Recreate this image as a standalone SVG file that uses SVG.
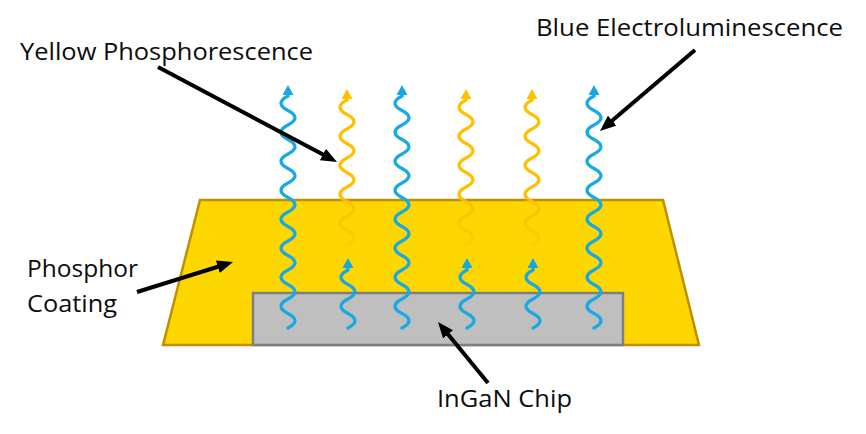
<svg xmlns="http://www.w3.org/2000/svg" width="866" height="434" viewBox="0 0 866 434">
  <style>
    .label { font-family: "Open Sans", "Liberation Sans", sans-serif; font-size: 24.5px; fill: #0d0d0d; }
    .blue { fill: none; stroke: #19A9E2; stroke-width: 3.3; stroke-linecap: round; marker-end: url(#headBlue); }
    .yellow { fill: none; stroke: url(#fadeYellow); stroke-width: 3.3; stroke-linecap: round; marker-end: url(#headYellow); }
    .pointer { fill: none; stroke: #000000; stroke-width: 4; marker-end: url(#headBlack); }
  </style>
  <defs>
    <marker id="headBlue" viewBox="0 0 10 11" refX="1" refY="5.5" markerWidth="10" markerHeight="11" markerUnits="userSpaceOnUse" orient="270">
      <path d="M0,0 L10,5.5 L0,11 z" fill="#19A9E2"/>
    </marker>
    <marker id="headYellow" viewBox="0 0 10 11" refX="1" refY="5.5" markerWidth="10" markerHeight="11" markerUnits="userSpaceOnUse" orient="270">
      <path d="M0,0 L10,5.5 L0,11 z" fill="#FFC000"/>
    </marker>
    <marker id="headBlack" viewBox="0 0 16 13" refX="6" refY="6.5" markerWidth="16" markerHeight="13" markerUnits="userSpaceOnUse" orient="auto">
      <path d="M0,0 L16,6.5 L0,13 z" fill="#000000"/>
    </marker>
    <linearGradient id="fadeYellow" gradientUnits="userSpaceOnUse" x1="0" y1="246" x2="0" y2="196">
      <stop offset="0" stop-color="#F7B200" stop-opacity="0.2"/>
      <stop offset="1" stop-color="#FFC000" stop-opacity="1"/>
    </linearGradient>
  </defs>

  <g id="phosphor-coating">
    <polygon points="200,200 663,200 699,345 163,345" fill="#FFD700" stroke="#BF9000" stroke-width="2.5"/>
  </g>
  <g id="ingan-chip">
    <rect x="253" y="293" width="370" height="52" fill="#BFBFBF" stroke="#7F7F7F" stroke-width="2.5"/>
  </g>

  <g id="emission">
    <path class="blue" d="M288 328 q14 -7.25 0 -14.5 t0 -14.5 t0 -14.5 t0 -14.5 t0 -14.5 t0 -14.5 t0 -14.5 t0 -14.5 t0 -14.5 t0 -14.5 t0 -14.5 t0 -14.5 t0 -14.5 t0 -14.5 t0 -14.5 t0 -14.5 v-2"/>
    <path class="blue" d="M402 328 q14 -7.25 0 -14.5 t0 -14.5 t0 -14.5 t0 -14.5 t0 -14.5 t0 -14.5 t0 -14.5 t0 -14.5 t0 -14.5 t0 -14.5 t0 -14.5 t0 -14.5 t0 -14.5 t0 -14.5 t0 -14.5 t0 -14.5 v-2"/>
    <path class="blue" d="M594 328 q14 -7.25 0 -14.5 t0 -14.5 t0 -14.5 t0 -14.5 t0 -14.5 t0 -14.5 t0 -14.5 t0 -14.5 t0 -14.5 t0 -14.5 t0 -14.5 t0 -14.5 t0 -14.5 t0 -14.5 t0 -14.5 t0 -14.5 v-2"/>
    <path class="blue" d="M348 328 q14 -7.25 0 -14.5 t0 -14.5 t0 -14.5 t0 -14.5 v-3"/>
    <path class="blue" d="M467 328 q14 -7.25 0 -14.5 t0 -14.5 t0 -14.5 t0 -14.5 v-3"/>
    <path class="blue" d="M533 328 q14 -7.25 0 -14.5 t0 -14.5 t0 -14.5 t0 -14.5 v-3"/>
    <path class="yellow" d="M347 245 q14 -7.25 0 -14.5 t0 -14.5 t0 -14.5 t0 -14.5 t0 -14.5 t0 -14.5 t0 -14.5 t0 -14.5 t0 -14.5 t0 -14.5 v-2"/>
    <path class="yellow" d="M466 245 q14 -7.25 0 -14.5 t0 -14.5 t0 -14.5 t0 -14.5 t0 -14.5 t0 -14.5 t0 -14.5 t0 -14.5 t0 -14.5 t0 -14.5 v-2"/>
    <path class="yellow" d="M532 245 q14 -7.25 0 -14.5 t0 -14.5 t0 -14.5 t0 -14.5 t0 -14.5 t0 -14.5 t0 -14.5 t0 -14.5 t0 -14.5 t0 -14.5 v-2"/>
  </g>

  <g id="connectors">
    <path class="pointer" d="M158 67 L328.2 157.3"/>
    <path class="pointer" d="M695 50 L607.6 124.5"/>
    <path class="pointer" d="M137 292 L223.5 265"/>
    <path class="pointer" d="M488 383 L444.3 329.7"/>
  </g>

  <g id="label-yellow-phosphorescence">
    <text class="label" x="20" y="60" textLength="293" lengthAdjust="spacingAndGlyphs">Yellow Phosphorescence</text>
  </g>
  <g id="label-blue-electroluminescence">
    <text class="label" x="536" y="36" textLength="307" lengthAdjust="spacingAndGlyphs">Blue Electroluminescence</text>
  </g>
  <g id="label-phosphor-coating">
    <text class="label" x="27" y="277" textLength="111" lengthAdjust="spacingAndGlyphs">Phosphor</text>
    <text class="label" x="27" y="312" textLength="90" lengthAdjust="spacingAndGlyphs">Coating</text>
  </g>
  <g id="label-ingan-chip">
    <text class="label" x="437" y="407" textLength="135" lengthAdjust="spacingAndGlyphs">InGaN Chip</text>
  </g>
</svg>
